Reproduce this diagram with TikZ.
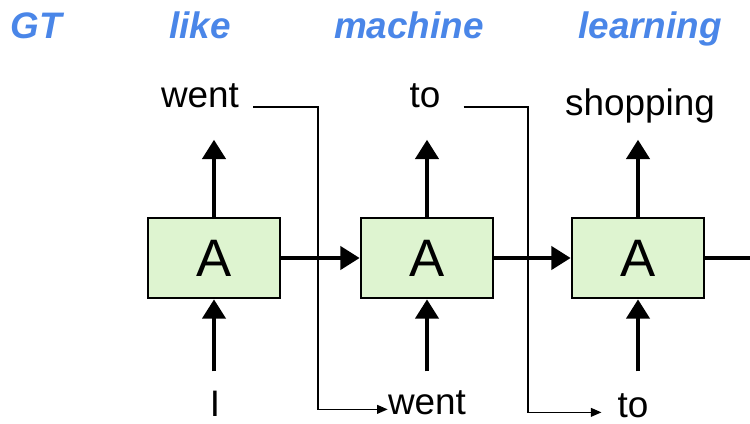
\documentclass[tikz,border=0pt]{standalone}
\usepackage{fontspec}
\setmainfont{Liberation Sans}
\usetikzlibrary{arrows.meta,positioning}
\definecolor{cellgreen}{RGB}{222,244,208}
\definecolor{wordblue}{RGB}{74,134,232}

\tikzset{
	cell/.style={draw, line width=1.5pt, fill=cellgreen, minimum width=2.64cm, minimum height=1.6cm, font=\fontsize{30}{30}\selectfont},
	word/.style={inner sep=0pt, anchor=base, font=\fontsize{21}{21}\selectfont},
	tag/.style={word, text=wordblue, font=\fontsize{21}{21}\selectfont\bfseries\itshape},
	flow/.style={line width=2.6pt, -{Triangle[length=11pt,width=13pt]}},
	feed/.style={line width=0.8pt, -{Triangle[length=6pt,width=5pt]}},
}

\begin{document}
\begin{tikzpicture}[x=0.02cm, y=-0.02cm]
	\useasboundingbox (0,0) rectangle (750,423);
	% target words
	\node[tag] (gt) at (36,38) {GT};
	\node[tag] (like) at (200,38) {like};
	\node[tag] (machine) at (409,38) {machine};
	\node[tag] (learning) at (650,38) {learning};
	% cells
	\node[cell] (A1) at (214,258) {A};
	\node[cell] (A2) at (427,258) {A};
	\node[cell] (A3) at (638,258) {A};
	% outputs and inputs
	\node[word] (out1) at (200,107) {went};
	\node[word] (out2) at (425,107) {to};
	\node[word] (out3) at (640,115) {shopping};
	\node[word] (in1) at (215,416) {I};
	\node[word] (in2) at (427,414) {went};
	\node[word] (in3) at (633,417) {to};
	\coordinate (exit) at (750,258);
	\coordinate (turn1) at (318,258);
	\coordinate (turn2) at (528,258);
	\foreach \i in {1,2,3} {
		\path (A\i.north) ++(0,-77) coordinate (up\i);
		\path (A\i.south) ++(0,72) coordinate (dn\i);
		\draw[flow] (A\i.north) -- (up\i);
		\draw[flow] (dn\i) -- (A\i.south);
	}
	\draw[flow] (A1) -- (A2);
	\draw[flow] (A2) -- (A3);
	\draw[line width=2.6pt] (A3) -- (exit);
	% fed back as next input
	\draw[feed, shorten <=8pt] (out1.base east) -| (turn1) |- (in2.mid west);
	\draw[feed, shorten <=13pt, shorten >=9pt] (out2.base east) -| (turn2) |- (in3.mid west);
\end{tikzpicture}
\end{document}
